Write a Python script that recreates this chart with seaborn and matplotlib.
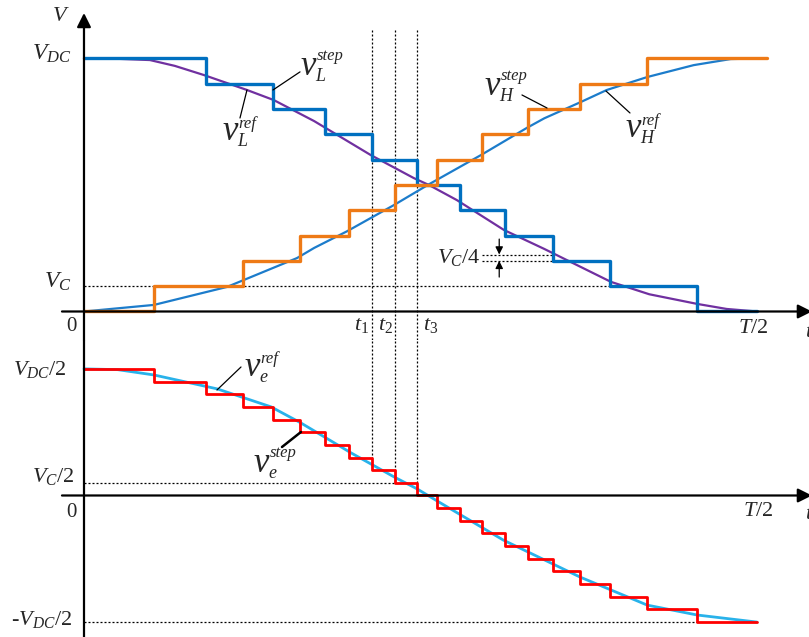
import numpy as np
import matplotlib
matplotlib.use("Agg")
import matplotlib.pyplot as plt
import seaborn as sns

# ---------------------------------------------------------------------------
# Normalised quantities: time in units of T/2, voltage in units of V_DC
# ---------------------------------------------------------------------------
V_C = 0.1            # one cell voltage step (V_DC / N)
N_LEVELS = 10

# switching instants of the staircase arm voltages
t_L_switch = [0.181, 0.281, 0.358, 0.428, 0.495, 0.559, 0.626, 0.697, 0.782, 0.911]
t_H_switch = [0.104, 0.236, 0.321, 0.394, 0.462, 0.525, 0.591, 0.660, 0.737, 0.837]
t_L_end = 1.0
t_H_end = 1.015

# reference (continuous) arm voltages
t_L_ref = [0.0, 0.05, 0.098, 0.135, 0.178, 0.242, 0.282, 0.342, 0.426, 0.490,
           0.513, 0.554, 0.624, 0.684, 0.783, 0.840, 0.911, 0.955, 1.0]
v_L_ref = [1.0, 0.998, 0.993, 0.970, 0.934, 0.875, 0.835, 0.752, 0.618, 0.527,
           0.499, 0.440, 0.322, 0.247, 0.117, 0.068, 0.030, 0.010, 0.0]

t_H_ref = [0.0, 0.104, 0.2125, 0.3165, 0.342, 0.391, 0.461, 0.513, 0.590, 0.658,
           0.684, 0.738, 0.777, 0.837, 0.906, 0.961, 1.015]
v_H_ref = [0.0, 0.026, 0.097, 0.211, 0.251, 0.317, 0.421, 0.503, 0.618, 0.725,
           0.763, 0.827, 0.875, 0.926, 0.973, 0.997, 1.0]

# reference output (AC side) voltage
t_e_ref = [0.0, 0.05, 0.104, 0.198, 0.278, 0.322, 0.397, 0.461, 0.495, 0.525,
           0.623, 0.737, 0.837, 0.911, 1.0]
v_e_ref = [0.5, 0.497, 0.476, 0.421, 0.350, 0.287, 0.168, 0.073, 0.026, -0.022,
           -0.176, -0.322, -0.433, -0.472, -0.5]

# ---------------------------------------------------------------------------
# staircase waveforms built from the switching instants
# ---------------------------------------------------------------------------
L_levels = [1.0 - V_C * k for k in range(N_LEVELS + 1)]
H_levels = [V_C * k for k in range(N_LEVELS + 1)]
t_L_step = [0.0] + t_L_switch + [t_L_end]
v_L_step = L_levels + [L_levels[-1]]
t_H_step = [0.0] + t_H_switch + [t_H_end]
v_H_step = H_levels + [H_levels[-1]]


def v_e_value(t, left=False):
    """Output voltage (v_L - v_H)/2 of the staircase waveforms."""
    if left:
        nL = sum(s < t for s in t_L_switch)
        nH = sum(s < t for s in t_H_switch)
    else:
        nL = sum(s <= t for s in t_L_switch)
        nH = sum(s <= t for s in t_H_switch)
    return ((1.0 - V_C * nL) - V_C * nH) / 2.0


t_e_events = sorted(t_L_switch + t_H_switch)
t_e_step = [0.0] + t_e_events + [t_L_end]
v_e_step = [v_e_value(t) for t in t_e_step]

t1, t2, t3 = t_L_switch[3], t_H_switch[4], t_L_switch[4]

# ---------------------------------------------------------------------------
# style
# ---------------------------------------------------------------------------
sns.set_theme(style="white")
plt.rcParams.update({
    "font.family": ["Liberation Serif", "DejaVu Serif"],
    "mathtext.fontset": "custom",
    "mathtext.rm": "Liberation Serif",
    "mathtext.it": "Liberation Serif:italic",
    "mathtext.bf": "Liberation Serif:bold",
    "axes.facecolor": "white",
    "figure.facecolor": "white",
})

C_LSTEP = "#0070C0"
C_LREF = "#7030A0"
C_HSTEP = "#EE7A16"
C_HREF = "#1C7CCB"
C_EREF = "#29B2EA"
C_ESTEP = "#FF0000"

fig = plt.figure(figsize=(8.09, 6.37), dpi=100)
ax_top = fig.add_axes([0.0, 297 / 637, 1.0, 340 / 637])
ax_bot = fig.add_axes([0.0, 0.0, 1.0, 297 / 637])
XLIM = (-0.1248, 1.0773)
ax_top.set_xlim(*XLIM)
ax_bot.set_xlim(*XLIM)
ax_top.set_ylim(-0.1126, 1.2302)
ax_bot.set_ylim(-0.5589, 0.6141)
for ax in (ax_top, ax_bot):
    ax.set_axis_off()

dot = dict(color="black", lw=0.9, linestyle=(0, (1.6, 1.6)))

# ---------------------------- top panel ------------------------------------
# guide lines
ax_top.plot([0, t_L_switch[8]], [V_C, V_C], **dot)
ax_top.plot([t_H_switch[6], t_L_switch[7]], [2 * V_C + V_C / 4] * 2, **dot)
ax_top.plot([t_H_switch[6], t_L_switch[7]], [2 * V_C, 2 * V_C], **dot)
for tv in (t1, t2, t3):
    ax_top.plot([tv, tv], [1.112, -0.3], **dot)

sns.lineplot(x=t_L_ref, y=v_L_ref, ax=ax_top, color=C_LREF, lw=1.6,
             sort=False, estimator=None)
sns.lineplot(x=t_H_ref, y=v_H_ref, ax=ax_top, color=C_HREF, lw=1.6,
             sort=False, estimator=None)
sns.lineplot(x=t_L_step, y=v_L_step, ax=ax_top, color=C_LSTEP, lw=2.4,
             drawstyle="steps-post", sort=False, estimator=None)
sns.lineplot(x=t_H_step, y=v_H_step, ax=ax_top, color=C_HSTEP, lw=2.4,
             drawstyle="steps-post", sort=False, estimator=None)

# axes with arrows
arrow_kw = dict(arrowstyle="-|>,head_length=0.4,head_width=0.2", lw=1.6,
                color="black", shrinkA=0, shrinkB=0, mutation_scale=21)
ax_top.annotate("", xy=(0, 1.1789), xytext=(0, -0.1126), arrowprops=arrow_kw,
                annotation_clip=False)
ax_top.annotate("", xy=(1.0817, 0), xytext=(-0.0327, 0), arrowprops=arrow_kw,
                annotation_clip=False)

# V_C/4 marker arrows
small_arrow = dict(arrowstyle="-|>,head_length=0.5,head_width=0.25", lw=0.9,
                   color="black", shrinkA=0, shrinkB=0, mutation_scale=9)
ax_top.annotate("", xy=(0.617, 2 * V_C + V_C / 4), xytext=(0.617, 0.286),
                arrowprops=small_arrow)
ax_top.annotate("", xy=(0.617, 2 * V_C), xytext=(0.617, 0.136),
                arrowprops=small_arrow)

# axis labels
ax_top.text(-0.0342, 1.1631, "$V$", fontsize=16, ha="center", va="center")
ax_top.text(-0.0178, 1.0170, "$V_{DC}$", fontsize=17, ha="right", va="center")
ax_top.text(-0.0178, 0.1165, "$V_C$", fontsize=17, ha="right", va="center")
ax_top.text(-0.0193, -0.0612, "0", fontsize=15, ha="center", va="center")
ax_top.text((361.5 - 84) / 673, -0.0537, "$t_1$", fontsize=16, ha="center", va="center")
ax_top.text((385.5 - 84) / 673, -0.0537, "$t_2$", fontsize=16, ha="center", va="center")
ax_top.text((430.5 - 84) / 673, -0.0537, "$t_3$", fontsize=16, ha="center", va="center")
ax_top.text(0.9941, -0.0691, "$T/2$", fontsize=16, ha="center", va="center")
ax_top.text(1.0713, -0.0849, "$t$", fontsize=16, ha="left", va="center")
ax_top.text(0.5884, 0.2113, "$V_C/4$", fontsize=16, ha="right", va="center")


def wave_label(ax, x, y, sub, sup, sup_dy):
    ax.text(x, y, "v", fontsize=25, fontstyle="italic", ha="center", va="baseline")
    ax.annotate(sup, (x, y), xytext=(8, sup_dy), textcoords="offset pixels",
                fontsize=12, fontstyle="italic", ha="left", va="baseline")
    ax.annotate(sub, (x, y), xytext=(7, -6), textcoords="offset pixels",
                fontsize=13, fontstyle="italic", ha="left", va="baseline")


lead = dict(color="black", lw=0.9)
ax_top.plot([0.2808, 0.3210], [0.8748, 0.9463], **lead)
ax_top.plot([0.2422, 0.2318], [0.8748, 0.7642], **lead)
ax_top.plot([0.6880, 0.6508], [0.8037, 0.8551], **lead)
ax_top.plot([0.7756, 0.8113], [0.8709, 0.7840], **lead)
wave_label(ax_top, 0.3336, 0.9340, "L", "step", 15)
wave_label(ax_top, 0.2177, 0.6773, "L", "ref", 12)
wave_label(ax_top, 0.6070, 0.8551, "H", "step", 15)
wave_label(ax_top, 0.8165, 0.6892, "H", "ref", 12)

# ---------------------------- bottom panel ---------------------------------
ax_bot.plot([0, t2], [V_C / 2, V_C / 2], **dot)
ax_bot.plot([0, t_L_switch[9]], [-0.5, -0.5], **dot)
for tv in (t1, t2, t3):
    ax_bot.plot([tv, tv], [0.8, v_e_value(tv, left=True)], **dot)

sns.lineplot(x=t_e_ref, y=v_e_ref, ax=ax_bot, color=C_EREF, lw=2.0,
             sort=False, estimator=None)
sns.lineplot(x=t_e_step, y=v_e_step, ax=ax_bot, color=C_ESTEP, lw=2.0,
             drawstyle="steps-post", sort=False, estimator=None)

ax_bot.plot([0, 0], [-0.7, 0.8], color="black", lw=1.6)
ax_bot.annotate("", xy=(1.0817, 0), xytext=(-0.0327, 0), arrowprops=arrow_kw,
                annotation_clip=False)

ax_bot.text(-0.0253, 0.4957, "$V_{DC}/2$", fontsize=16, ha="right", va="center")
ax_bot.text(-0.0134, 0.0731, "$V_C/2$", fontsize=16, ha="right", va="center")
ax_bot.text(-0.0193, -0.0691, "0", fontsize=15, ha="center", va="center")
ax_bot.text(1.0015, -0.0652, "$T/2$", fontsize=16, ha="center", va="center")
ax_bot.text(1.0713, -0.0770, "$t$", fontsize=16, ha="left", va="center")
ax_bot.text(-0.0178, -0.4917, "-$V_{DC}/2$", fontsize=16, ha="right", va="center")

ax_bot.plot([0.1976, 0.2333], [0.4167, 0.5075], **lead)
ax_bot.plot([0.3224, 0.2942], [0.2508, 0.1915], color="black", lw=1.8)
wave_label(ax_bot, 0.2504, 0.4720, "e", "ref", 13)
wave_label(ax_bot, 0.2637, 0.0928, "e", "step", 15)

fig.savefig("out.png", dpi=100)
